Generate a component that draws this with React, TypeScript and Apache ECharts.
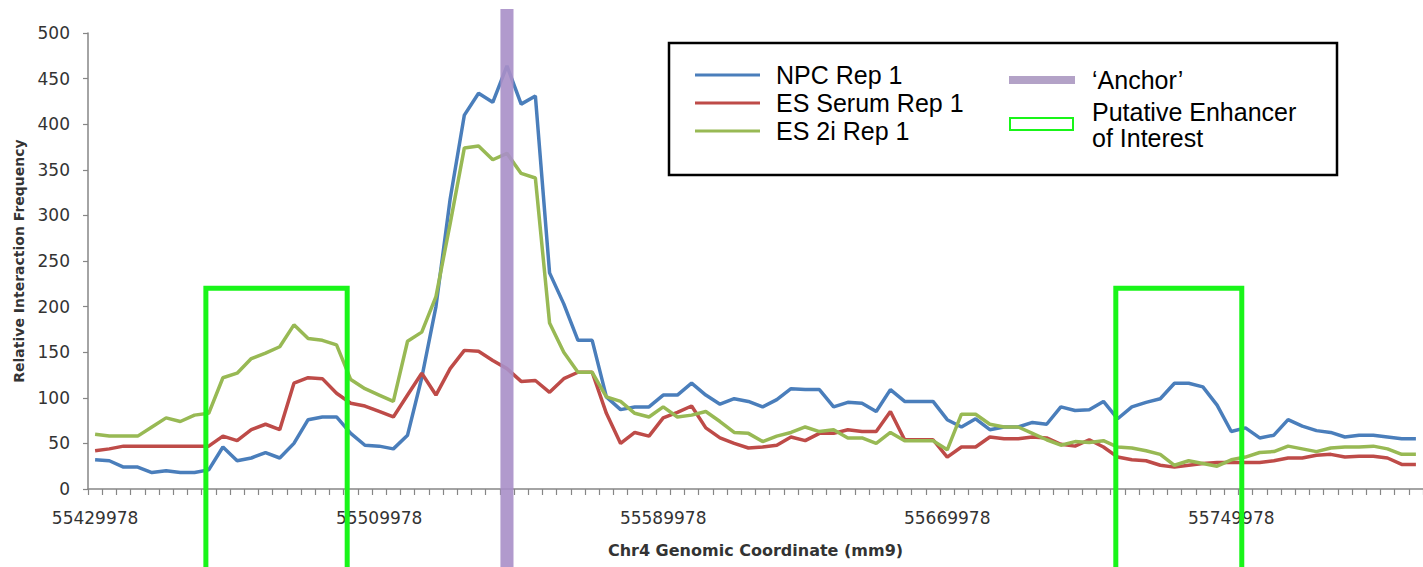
import React, { useEffect, useRef } from "react";
import * as echarts from "echarts";

// Genomic coordinate bins (chr4, mm9): first bin and bin width
const START_COORD = 55429978;
const BIN_SIZE = 4000;
const BIN_COUNT = 94;
const CATEGORIES: string[] = Array.from({ length: BIN_COUNT }, (_, i) => String(START_COORD + i * BIN_SIZE));

const Y_TICKS = { min: 0, max: 500, interval: 50 };

const NPC_REP1 = [
  32, 31, 24, 24, 18, 20, 18, 18, 21, 46,
  31, 34, 40, 34, 50, 76, 79, 79, 61, 48,
  47, 44, 59, 122, 200, 318, 410, 434, 424, 464,
  422, 431, 237, 203, 163, 163, 101, 87, 90, 90,
  103, 103, 116, 103, 93, 99, 96, 90, 98, 110,
  109, 109, 90, 95, 94, 85, 109, 96, 96, 96,
  76, 68, 77, 65, 68, 68, 73, 71, 90, 86,
  87, 96, 77, 90, 95, 99, 116, 116, 112, 92,
  63, 67, 56, 59, 76, 69, 64, 62, 57, 59,
  59, 57, 55, 55,
];

const ES_SERUM_REP1 = [
  42, 44, 47, 47, 47, 47, 47, 47, 47, 58,
  53, 65, 71, 65, 116, 122, 121, 105, 94, 91,
  85, 79, 103, 127, 103, 132, 152, 151, 141, 132,
  118, 119, 106, 121, 128, 128, 83, 50, 62, 58,
  78, 84, 91, 67, 56, 50, 45, 46, 48, 57,
  53, 61, 61, 65, 63, 63, 85, 54, 54, 54,
  35, 46, 46, 57, 55, 55, 57, 56, 49, 47,
  54, 46, 35, 32, 31, 26, 24, 26, 28, 29,
  29, 29, 29, 31, 34, 34, 37, 38, 35, 36,
  36, 34, 27, 27,
];

const ES_2I_REP1 = [
  60, 58, 58, 58, 68, 78, 74, 81, 83, 122,
  127, 143, 149, 156, 180, 165, 163, 158, 120, 110,
  103, 96, 162, 172, 211, 291, 374, 376, 361, 368,
  346, 341, 182, 150, 128, 128, 101, 96, 83, 79,
  90, 79, 81, 85, 74, 62, 61, 52, 58, 62,
  68, 63, 65, 56, 56, 50, 62, 53, 53, 53,
  43, 82, 82, 71, 68, 68, 61, 54, 48, 52,
  51, 53, 46, 45, 42, 38, 26, 31, 28, 25,
  32, 35, 40, 41, 47, 44, 41, 45, 46, 46,
  47, 44, 38, 38,
];

// Annotations (genomic coordinates)
const ANCHOR_COORD = 55545978;
const ENHANCER_REGIONS: [number, number][] = [
  [55461178, 55500978],
  [55717458, 55752938],
];
const ENHANCER_BOX_TOP = 220;

const SERIES_NAMES = ["NPC Rep 1", "ES Serum Rep 1", "ES 2i Rep 1"];
const COLORS = ["#4A7EBB", "#BE4B48", "#98B954"];
const ANCHOR_COLOR = "#A88FC8";
const BOX_GREEN = "#19F519";

export default function App() {
  const ref = useRef<HTMLDivElement>(null);

  useEffect(() => {
    document.body.style.margin = "0";
    const chart = echarts.init(ref.current!, null, { renderer: "svg" });
    const axisFont = "DejaVu Sans";
    chart.setOption({
      animation: false,
      backgroundColor: "#ffffff",
      grid: { left: 88, right: 0, top: 33, bottom: 78, containLabel: false },
      xAxis: {
        type: "category",
        data: CATEGORIES,
        boundaryGap: true,
        name: "Chr4 Genomic Coordinate (mm9)",
        nameLocation: "middle",
        nameGap: 53,
        nameTextStyle: { fontFamily: axisFont, fontWeight: "bold", fontSize: 16, color: "#333" },
        axisLine: { show: true, lineStyle: { color: "#868686", width: 1.5 } },
        axisTick: { show: true, interval: 0, length: 6, inside: false, lineStyle: { color: "#868686", width: 1.2 } },
        axisLabel: { interval: 19, margin: 20, fontFamily: axisFont, fontSize: 17, color: "#333" },
        splitLine: { show: false },
      },
      yAxis: {
        type: "value",
        min: Y_TICKS.min,
        max: Y_TICKS.max,
        interval: Y_TICKS.interval,
        name: "Relative Interaction Frequency",
        nameLocation: "middle",
        nameGap: 62,
        nameTextStyle: { fontFamily: axisFont, fontWeight: "bold", fontSize: 14, color: "#333" },
        axisLine: { show: true, lineStyle: { color: "#868686", width: 1.5 } },
        axisTick: { show: true, length: 5, lineStyle: { color: "#868686", width: 1.2 } },
        axisLabel: { margin: 18, fontFamily: axisFont, fontSize: 17, color: "#333" },
        splitLine: { show: false },
      },
      series: [NPC_REP1, ES_SERUM_REP1, ES_2I_REP1].map((d, i) => ({
        name: SERIES_NAMES[i],
        type: "line",
        data: d,
        showSymbol: false,
        smooth: false,
        lineStyle: { color: COLORS[i], width: 3.5 },
        itemStyle: { color: COLORS[i] },
        z: 2 + i,
      })),
    });

    const x0 = chart.convertToPixel({ xAxisIndex: 0 }, CATEGORIES[0]) as number;
    const x1 = chart.convertToPixel({ xAxisIndex: 0 }, CATEGORIES[1]) as number;
    const xOfCoord = (c: number) => x0 + ((c - START_COORD) / BIN_SIZE) * (x1 - x0);
    const yOf = (v: number) => chart.convertToPixel({ yAxisIndex: 0 }, v) as number;
    const binW = x1 - x0;

    const graphics: any[] = [];
    // Anchor bar
    const ax = xOfCoord(ANCHOR_COORD);
    const aw = binW * 0.92;
    graphics.push({
      type: "rect",
      z: 50,
      shape: { x: ax - aw / 2, y: 9, width: aw, height: 600 },
      style: { fill: ANCHOR_COLOR, opacity: 0.9 },
    });
    // Enhancer boxes
    ENHANCER_REGIONS.forEach(([a, b]) => {
      const xa = xOfCoord(a);
      const xb = xOfCoord(b);
      const yt = yOf(ENHANCER_BOX_TOP);
      graphics.push({
        type: "polyline",
        z: 60,
        shape: { points: [[xa, 600], [xa, yt], [xb, yt], [xb, 600]] },
        style: { stroke: BOX_GREEN, lineWidth: 5, fill: "none" },
      });
    });

    // Legend
    const lf = '25px "Liberation Sans"';
    graphics.push({
      type: "rect",
      z: 70,
      shape: { x: 669, y: 43, width: 668, height: 132 },
      style: { fill: "#ffffff", stroke: "#000000", lineWidth: 2.5 },
    });
    const rows = [75, 103, 131];
    SERIES_NAMES.forEach((n, i) => {
      graphics.push({
        type: "line",
        z: 71,
        shape: { x1: 695, y1: rows[i], x2: 760, y2: rows[i] },
        style: { stroke: COLORS[i], lineWidth: 3 },
      });
      graphics.push({
        type: "text",
        z: 71,
        style: { text: n, x: 776, y: rows[i], font: lf, fill: "#000", textAlign: "left", textVerticalAlign: "middle" },
      });
    });
    graphics.push({
      type: "rect",
      z: 71,
      shape: { x: 1009, y: 76, width: 66, height: 8 },
      style: { fill: "#B3A2C7" },
    });
    graphics.push({
      type: "text",
      z: 71,
      style: { text: "\u2018Anchor\u2019", x: 1092, y: 80, font: lf, fill: "#000", textAlign: "left", textVerticalAlign: "middle" },
    });
    graphics.push({
      type: "rect",
      z: 71,
      shape: { x: 1010, y: 118, width: 63, height: 12 },
      style: { fill: "#ffffff", stroke: BOX_GREEN, lineWidth: 2 },
    });
    graphics.push({
      type: "text",
      z: 71,
      style: { text: "Putative Enhancer", x: 1092, y: 112, font: lf, fill: "#000", textAlign: "left", textVerticalAlign: "middle" },
    });
    graphics.push({
      type: "text",
      z: 71,
      style: { text: "of Interest", x: 1092, y: 138, font: lf, fill: "#000", textAlign: "left", textVerticalAlign: "middle" },
    });

    chart.setOption({ graphic: graphics });
    return () => chart.dispose();
  }, []);

  return <div ref={ref} style={{ position: "absolute", left: 0, top: 0, width: 1423, height: 567 }} />;
}
